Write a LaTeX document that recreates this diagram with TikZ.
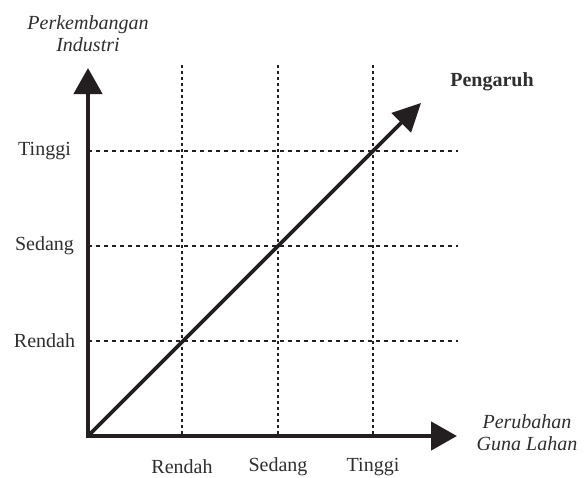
\documentclass[tikz,border=0pt]{standalone}
\usepackage{fontspec}
\setmainfont{Liberation Serif}
\usetikzlibrary{arrows.meta}
\definecolor{ink}{HTML}{231F20}
\definecolor{txt}{HTML}{2E2E2E}
\begin{document}
\begin{tikzpicture}[x=1pt,y=-1pt,
  axis/.style={draw=ink,line width=4.5pt,-{Triangle[length=26pt,width=28pt]}},
  diag/.style={draw=ink,line width=3.6pt,-{Triangle[length=28pt,width=27pt]}},
  hgrid/.style={draw=ink,line width=2.2pt,dash pattern=on 4pt off 4pt},
  vgrid/.style={draw=ink,line width=2.2pt,dash pattern=on 3pt off 3pt},
  lbl/.style={text=txt,font=\fontsize{20}{23}\selectfont,inner sep=0pt},
  ilbl/.style={lbl,font=\fontsize{20}{23}\selectfont\itshape,align=center},
  blbl/.style={lbl,font=\fontsize{20}{23}\selectfont\bfseries}]
\useasboundingbox (0,0) rectangle (585,477);
% coordinates
\coordinate (O) at (88,436);
\coordinate (ytop) at (88,68);
\coordinate (xend) at (457,436);
\coordinate (dend) at (421,103);
\foreach \n/\x in {r/182,s/278,t/373}{
  \coordinate (v\n a) at (\x,65);
  \coordinate (v\n b) at (\x,436);
}
\foreach \n/\y in {r/341,s/246,t/151}{
  \coordinate (h\n a) at (88,\y);
  \coordinate (h\n b) at (458,\y);
}
% grid
\foreach \n in {r,s,t}{
  \draw[vgrid] (v\n a) -- (v\n b);
  \draw[hgrid] (h\n a) -- (h\n b);
}
% axes
\draw[axis] ([yshift=2.25pt]O) -- (ytop);
\draw[axis] ([xshift=-2.25pt]O) -- (xend);
\draw[diag] (O) -- (dend);
% labels
\node[ilbl] (ylab) at (88,34) {Perkembangan\\[-1pt]Industri};
\node[ilbl] (xlab) at (527,433) {Perubahan\\[-1pt]Guna Lahan};
\node[blbl] (peng) at (492,82) {Pengaruh};
\node[lbl] (yt) at (44.5,151) {Tinggi};
\node[lbl] (ys) at (44.5,246) {Sedang};
\node[lbl] (yr) at (44.5,341) {Rendah};
\node[lbl] (xr) at (182,467) {Rendah};
\node[lbl] (xs) at (278,467) {Sedang};
\node[lbl] (xt) at (373,467) {Tinggi};
\end{tikzpicture}
\end{document}
